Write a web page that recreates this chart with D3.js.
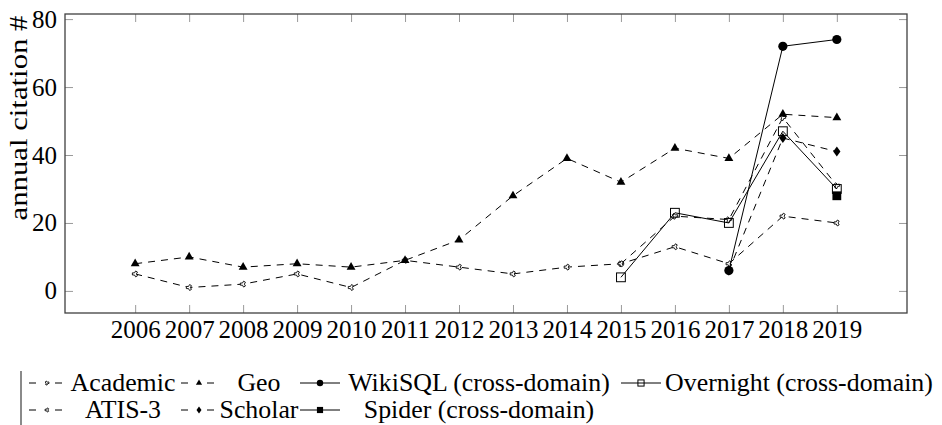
<!DOCTYPE html>
<html>
<head>
<meta charset="utf-8">
<script src="https://cdn.jsdelivr.net/npm/d3@7"></script>
<style>
  body { margin: 0; background: #fff; }
</style>
</head>
<body>
<script>
// values
var years = [2006, 2007, 2008, 2009, 2010, 2011, 2012, 2013, 2014, 2015, 2016, 2017, 2018, 2019];
var yTicks = [0, 20, 40, 60, 80];

var atis3 = [5, 1, 2, 5, 1, 9, 7, 5, 7, 8, 13, 8, 22, 20];
var geo = [8, 10, 7, 8, 7, 9, 15, 28, 39, 32, 42, 39, 52, 51];
var academicYears = [2015, 2016, 2017, 2018, 2019];
var academic = [8, 22, 21, 51, 31];
var scholarYears = [2017, 2018, 2019];
var scholar = [6, 45, 41];
var wikisqlYears = [2017, 2018, 2019];
var wikisql = [6, 72, 74];
var spiderYears = [2019];
var spider = [28];
var overnightYears = [2015, 2016, 2017, 2018, 2019];
var overnight = [4, 23, 20, 47, 30];

function zip(xs, vs) { return xs.map(function (x, i) { return [x, vs[i]]; }); }

// drawing order (legend is transposed: columns first)
var series = [
  {name: "Academic", data: zip(academicYears, academic), dashed: true, mark: "wyeA"},
  {name: "ATIS-3", data: zip(years, atis3), dashed: true, mark: "wyeB"},
  {name: "Geo", data: zip(years, geo), dashed: true, mark: "triangle"},
  {name: "Scholar", data: zip(scholarYears, scholar), dashed: true, mark: "diamond"},
  {name: "WikiSQL (cross-domain)", data: zip(wikisqlYears, wikisql), dashed: false, mark: "circle"},
  {name: "Spider (cross-domain)", data: zip(spiderYears, spider), dashed: false, mark: "fsquare"},
  {name: "Overnight (cross-domain)", data: zip(overnightYears, overnight), dashed: false, mark: "osquare"}
];

// pick a serif face that is really installed
function hasFont(name) {
  var c = document.createElement("canvas").getContext("2d");
  var probe = "mmmmmmmmmmllliiiWWQ1234";
  var res = ["monospace", "sans-serif"].map(function (fb) {
    c.font = "40px " + fb;
    var base = c.measureText(probe).width;
    c.font = "40px '" + name + "', " + fb;
    return c.measureText(probe).width !== base;
  });
  return res[0] && res[1];
}
var serifs = ["Liberation Serif", "DejaVu Serif", "Tinos", "Times New Roman", "Noto Serif", "FreeSerif", "Nimbus Roman"];
var face = serifs.filter(hasFont)[0];
var FONT = face ? "'" + face + "', serif" : "serif";

var W = 942, H = 425;
var box = {left: 65, right: 907, top: 14, bottom: 313};

var svg = d3.select("body").append("svg")
  .attr("width", W)
  .attr("height", H)
  .attr("font-family", FONT);

var x = d3.scaleLinear().domain([2006 - 1.3, 2019 + 1.3]).range([box.left, box.right]);
var y = d3.scaleLinear().domain([-6.5, 81.5]).range([box.bottom, box.top]);

// axes: inward ticks on all four sides
var fmt = d3.format("d");
svg.append("g")
  .attr("transform", "translate(0," + box.bottom + ")")
  .call(d3.axisBottom(x).tickValues(years).tickFormat(fmt).tickSize(-8).tickSizeOuter(0).tickPadding(7));
svg.append("g")
  .attr("transform", "translate(0," + box.top + ")")
  .call(d3.axisTop(x).tickValues(years).tickFormat("").tickSize(-8).tickSizeOuter(0));
svg.append("g")
  .attr("transform", "translate(" + box.left + ",0)")
  .call(d3.axisLeft(y).tickValues(yTicks).tickSize(-8).tickSizeOuter(0).tickPadding(8));
svg.append("g")
  .attr("transform", "translate(" + box.right + ",0)")
  .call(d3.axisRight(y).tickValues(yTicks).tickFormat("").tickSize(-8).tickSizeOuter(0));

svg.selectAll(".domain").remove();
svg.selectAll("g").attr("font-family", FONT);
svg.selectAll(".tick line").attr("stroke", "#9a9a9a").attr("stroke-width", 1);
svg.selectAll(".tick text").attr("font-size", 25).attr("fill", "#000");

svg.append("rect")
  .attr("x", box.left).attr("y", box.top)
  .attr("width", box.right - box.left).attr("height", box.bottom - box.top)
  .attr("fill", "none").attr("stroke", "#404040").attr("stroke-width", 1.3);

// y label
svg.append("text")
  .attr("transform", "translate(27,118) rotate(-90)")
  .attr("text-anchor", "middle")
  .attr("font-size", 25)
  .attr("textLength", 205)
  .attr("lengthAdjust", "spacingAndGlyphs")
  .text("annual citation #");

// markers
function drawMark(g, kind, s) {
  s = s || 1;
  if (kind === "circle") {
    g.append("circle").attr("r", 4.6 * s).attr("fill", "#000");
  } else if (kind === "triangle") {
    g.append("path").attr("d", d3.symbol(d3.symbolTriangle, 34 * s * s)()).attr("fill", "#000");
  } else if (kind === "diamond") {
    var a = 3.6 * s, b = 5 * s;
    g.append("path").attr("d", "M0," + (-b) + "L" + a + ",0L0," + b + "L" + (-a) + ",0Z").attr("fill", "#000");
  } else if (kind === "osquare") {
    var h = 4.4 * s;
    g.append("rect").attr("x", -h).attr("y", -h).attr("width", 2 * h).attr("height", 2 * h)
      .attr("fill", "none").attr("stroke", "#000").attr("stroke-width", 1);
  } else if (kind === "fsquare") {
    var q = 4.4 * s;
    g.append("rect").attr("x", -q).attr("y", -q).attr("width", 2 * q).attr("height", 2 * q)
      .attr("fill", "#000");
  } else {
    var rot = kind === "wyeA" ? 20 : -30;
    g.append("path").attr("d", d3.symbol(d3.symbolWye, 16 * s * s)())
      .attr("transform", "rotate(" + rot + ")")
      .attr("fill", "#fff").attr("stroke", "#000").attr("stroke-width", 0.8);
  }
}

var line = d3.line()
  .x(function (d) { return x(d[0]); })
  .y(function (d) { return y(d[1]); });

series.forEach(function (s) {
  var g = svg.append("g");
  g.append("path")
    .datum(s.data)
    .attr("d", line)
    .attr("fill", "none")
    .attr("stroke", "#000")
    .attr("stroke-width", 1)
    .attr("stroke-dasharray", s.dashed ? "7,6" : null);
  g.selectAll(".m")
    .data(s.data)
    .enter().append("g")
    .attr("transform", function (d) { return "translate(" + x(d[0]) + "," + y(d[1]) + ")"; })
    .each(function () { drawMark(d3.select(this), s.mark, 1); });
});

// legend: 4 columns, 2 rows, filled column by column
var legendCols = [
  {sample: 27, text: 123},
  {sample: 179, text: 259},
  {sample: 300, text: 479},
  {sample: 621, text: 799}
];
var legendRows = [383, 410];
var bySeries = {};
series.forEach(function (s) { bySeries[s.name] = s; });
var legendOrder = [
  ["Academic", "ATIS-3"],
  ["Geo", "Scholar"],
  ["WikiSQL (cross-domain)", "Spider (cross-domain)"],
  ["Overnight (cross-domain)"]
];

svg.append("line")
  .attr("x1", 21).attr("x2", 21).attr("y1", 371).attr("y2", H)
  .attr("stroke", "#8a8a8a").attr("stroke-width", 2);

var leg = svg.append("g");
legendOrder.forEach(function (col, ci) {
  col.forEach(function (name, ri) {
    var s = bySeries[name];
    var cy = legendRows[ri];
    var x0 = legendCols[ci].sample;
    leg.append("line")
      .attr("x1", x0).attr("x2", x0 + 40).attr("y1", cy).attr("y2", cy)
      .attr("stroke", "#000").attr("stroke-width", 1)
      .attr("stroke-dasharray", s.dashed ? "7,6" : null)
      .attr("stroke-dashoffset", s.dashed ? -2 : 0);
    var mg = leg.append("g").attr("transform", "translate(" + (x0 + 20) + "," + cy + ")");
    mg.append("rect").attr("x", -5).attr("y", -5).attr("width", 10).attr("height", 10).attr("fill", s.dashed ? "#fff" : "none");
    drawMark(mg, s.mark, 0.7);
    var t = leg.append("text")
      .attr("x", legendCols[ci].text).attr("y", cy + 8)
      .attr("text-anchor", "middle")
      .attr("font-size", 24.4)
      .text(name);
    var w = t.node().getComputedTextLength();
    t.attr("textLength", w * 1.06).attr("lengthAdjust", "spacingAndGlyphs");
  });
});
</script>
</body>
</html>
